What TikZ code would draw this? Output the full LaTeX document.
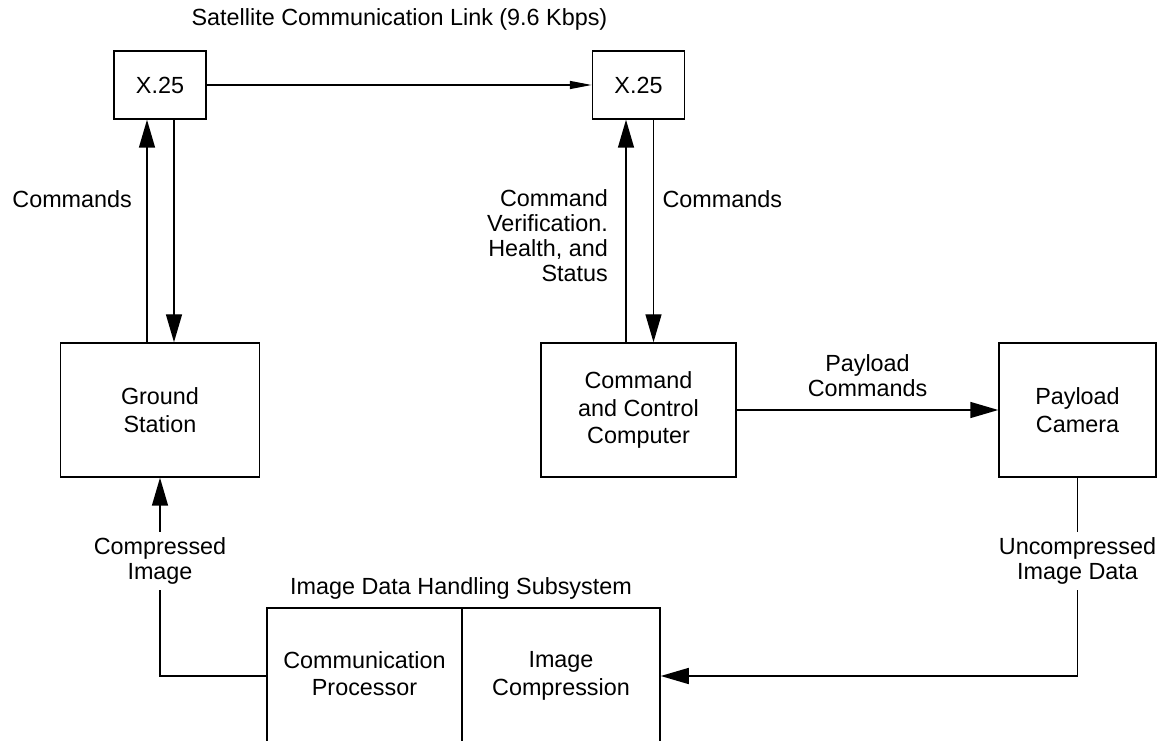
\documentclass[tikz,border=0pt]{standalone}
\usepackage{fontspec}
\setmainfont{Liberation Sans}
\usepackage{tikz}
\usetikzlibrary{arrows.meta,positioning}

\begin{document}
\begin{tikzpicture}[line width=0.85pt, >={Triangle[length=5.6mm, width=3.2mm]},
    every node/.style={font=\fontsize{13.3}{15.6}\selectfont, align=center},
    block/.style={rectangle, draw, minimum height=2.68cm},
    tag/.style={font=\fontsize{13.3}{14.2}\selectfont},
    link/.style={-{Triangle[length=4.4mm, width=1.6mm]}}]

    \useasboundingbox (0, 0) rectangle (23.26, 14.8);
    \clip (0, 0) rectangle (23.26, 14.8);

    \node (satlink) at (7.99, 14.42) {Satellite Communication Link (9.6 Kbps)};
    \node[block, minimum width=1.84cm, minimum height=1.36cm] (x25a) at (3.2, 13.1) {X.25};
    \node[block, minimum width=1.84cm, minimum height=1.36cm] (x25b) at (12.77, 13.1) {X.25};
    \draw[link] (x25a) -- (x25b);

    \node[block, minimum width=3.98cm] (ground) at (3.2, 6.6) {Ground\\Station};
    \node[block, minimum width=3.9cm] (ccc) at (12.77, 6.6) {Command\\and Control\\Computer};
    \node[block, minimum width=3.14cm] (camera) at (21.55, 6.6) {Payload\\Camera};

    \node[block, minimum width=3.9cm, minimum height=2.72cm] (comm) at (7.29, 1.28) {Communication\\Processor\vphantom{p}};
    \node[block, minimum width=3.96cm, minimum height=2.72cm] (compr) at (11.22, 1.28) {Image\\Compression};
    \node (idhs) at (9.22, 3.04) {Image Data Handling Subsystem};

    \draw[->] ([xshift=-0.26cm]ground.north) -- ([xshift=-0.26cm]x25a.south) node[tag, pos=0.643, left=0.17cm] {Commands};
    \draw[->] ([xshift=0.28cm]x25a.south) -- ([xshift=0.28cm]ground.north);

    \draw[->] ([xshift=-0.25cm]ccc.north) -- ([xshift=-0.25cm]x25b.south) node[tag, pos=0.478, left=0.23cm, align=right] {Command\\Verification.\\Health, and\\Status};
    \draw[->] ([xshift=0.3cm]x25b.south) -- ([xshift=0.3cm]ccc.north) node[tag, pos=0.357, right=0.05cm] {Commands};

    \draw[->] (ccc) -- (camera) node[tag, midway, above=0.14cm] {Payload\\Commands};
    \draw[->] (comm.west) -| (ground.south) node[tag, pos=0.79, fill=white] {Compressed\\Image};
    \draw[->] (camera.south) |- (compr.east) node[tag, pos=0.21, fill=white] {Uncompressed\\Image Data};

\end{tikzpicture}
\end{document}
